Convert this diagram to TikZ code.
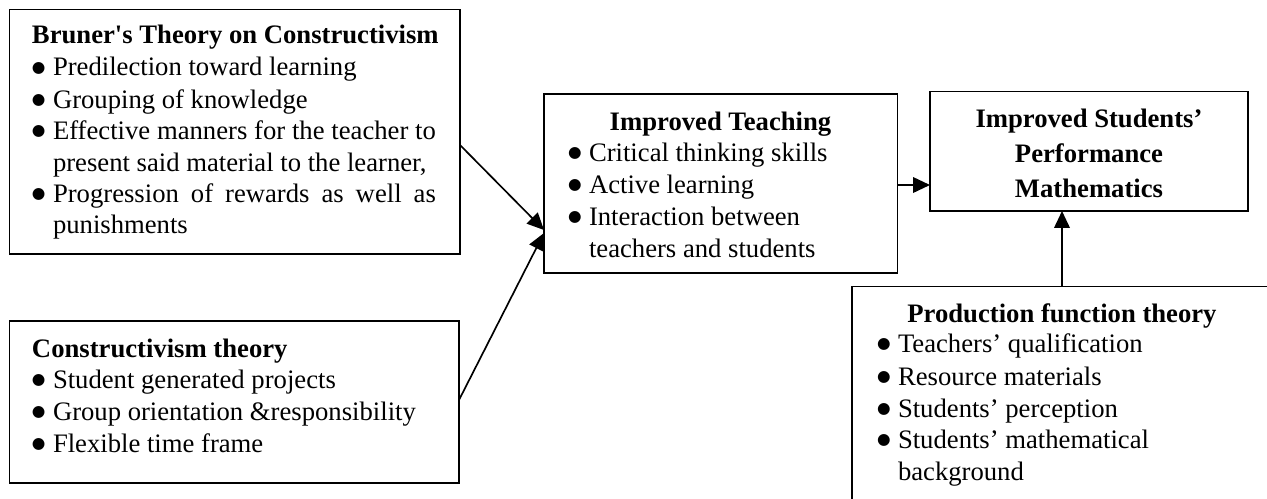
\documentclass[tikz,border=0pt]{standalone}
\usepackage{fontspec}
\setmainfont{Liberation Serif}[Ligatures=TeXOff]
\newfontfamily\dejavu{DejaVu Sans}
\usetikzlibrary{arrows.meta,calc,fit}
\newcommand\bul{\makebox[9.45pt][l]{\raisebox{1.6pt}{\dejavu\fontsize{7pt}{8pt}\selectfont ●}}}
\tikzset{
  boxshape/.style={draw, line width=0.75pt, inner sep=0pt, outer sep=0pt, rectangle},
  txt/.style={inner sep=0pt, outer sep=0pt, anchor=base west, font=\fontsize{12pt}{14pt}\selectfont},
  ctxt/.style={txt, anchor=base},
  arr/.style={line width=0.75pt, -{Triangle[length=7.6pt, width=7pt]}}
}
\begin{document}
\begin{tikzpicture}[x=0.45pt, y=-0.45pt]
\useasboundingbox (0,0) rectangle (1267,499);
\clip (0,0) rectangle (1267,499);
\fill[white] (0,0) rectangle (1267,499);
% boxes
\coordinate (p1a) at (9.5,9.5);  \coordinate (p1b) at (460,254);
\coordinate (p2a) at (9.5,321);  \coordinate (p2b) at (459,483);
\coordinate (p3a) at (544,94);   \coordinate (p3b) at (897.5,273);
\coordinate (p4a) at (930,91.5); \coordinate (p4b) at (1248,211);
\coordinate (p5a) at (852,286.5);\coordinate (p5b) at (1272,560);
\node[boxshape, fit=(p1a)(p1b)] (b1) {};
\node[boxshape, fit=(p2a)(p2b)] (b2) {};
\node[boxshape, fit=(p3a)(p3b)] (b3) {};
\node[boxshape, fit=(p4a)(p4b)] (b4) {};
\node[boxshape, fit=(p5a)(p5b)] (b5) {};
% box 1 text
\node[txt] (t1) at (32,43) {\bfseries Bruner\symbol{39}s Theory on Constructivism};
\node[txt] (t1a) at (32,76) {\bul Predilection toward learning};
\node[txt] (t1b) at (32,108) {\bul Grouping of knowledge};
\node[txt] (t1c) at (32,139) {\bul\makebox[172.3pt][s]{Effective manners for the teacher to}};
\node[txt] (t1d) at (53,171) {present said material to the learner,};
\node[txt] (t1e) at (32,202) {\bul\makebox[172.3pt][s]{Progression of rewards as well as}};
\node[txt] (t1f) at (53,233) {punishments};
% box 2 text
\node[txt] (t2) at (32,357) {\bfseries Constructivism theory};
\node[txt] (t2a) at (32,388) {\bul Student generated projects};
\node[txt] (t2b) at (32,420) {\bul Group orientation \&responsibility};
\node[txt] (t2c) at (32,452) {\bul Flexible time frame};
% box 3 text
\node[ctxt] (t3) at (720.5,130) {\bfseries Improved Teaching};
\node[txt] (t3a) at (568,161) {\bul Critical thinking skills};
\node[txt] (t3b) at (568,193) {\bul Active learning};
\node[txt] (t3c) at (568,225) {\bul Interaction between};
\node[txt] (t3d) at (589,257) {teachers and students};
% box 4 text
\node[ctxt] (t4a) at (1089,127) {\bfseries Improved Students’};
\node[ctxt] (t4b) at (1089,162) {\bfseries Performance};
\node[ctxt] (t4c) at (1089,197) {\bfseries Mathematics};
% box 5 text
\node[ctxt] (t5) at (1062,322) {\bfseries Production function theory};
\node[txt] (t5a) at (877,352) {\bul Teachers’ qualification};
\node[txt] (t5b) at (877,385) {\bul Resource materials};
\node[txt] (t5c) at (877,417) {\bul Students’ perception};
\node[txt] (t5d) at (877,448) {\bul Students’ mathematical};
\node[txt] (t5e) at (898,480) {background};
% connectors
\draw[arr] ($(b1.north east)+(0,135.5)$) -- ($(b3.north west)+(0,136)$);
\draw[arr] ($(b2.north east)+(0,79)$) -- ($(b3.north west)+(0,139)$);
\draw[arr] ($(b3.north east)+(0,91)$) -- ($(b4.north west)+(0,93.5)$);
\draw[arr] ($(b5.north west)+(210,0)$) -- ($(b4.south west)+(132,0)$);
\end{tikzpicture}
\end{document}
